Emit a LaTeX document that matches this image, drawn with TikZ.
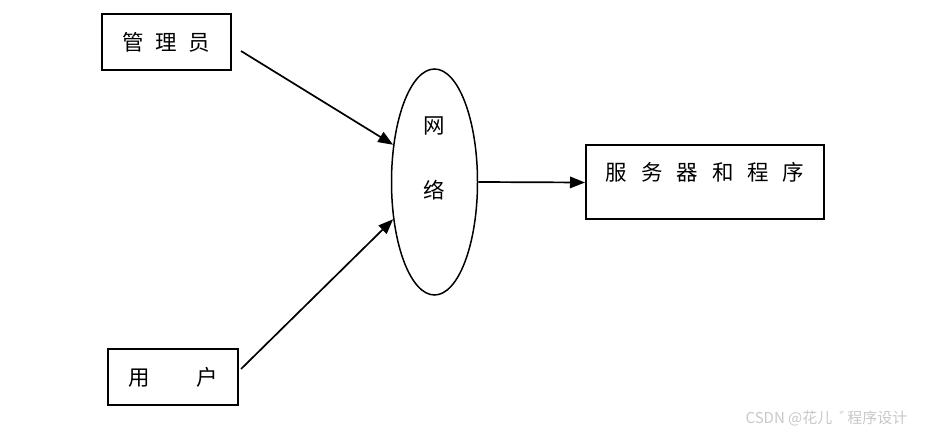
\documentclass[tikz,border=0pt]{standalone}
\usepackage{fontspec}
\usepackage{xcolor}
\newfontfamily\cjk{Noto Sans CJK SC}
\definecolor{wmgray}{RGB}{200,200,200}
\usetikzlibrary{shapes,arrows.meta,positioning}

\begin{document}
\begin{tikzpicture}[x=1pt,y=-1pt,
		box/.style={draw,line width=2pt,inner sep=0pt,font=\cjk\fontsize{21.5}{21.5}\selectfont},
		oval/.style={draw,ellipse,line width=1.5pt,minimum width=86pt,minimum height=226pt,inner sep=0pt},
		ch/.style={font=\cjk\fontsize{21.5}{21.5}\selectfont},
		arr/.style={line width=1.7pt,-{Triangle[length=15pt,width=11.5pt]}}]
	\useasboundingbox (0,0) rectangle (933,435);
	\node[box,minimum width=129pt,minimum height=56pt] (adm) at (166.5,42) {管\hspace{11.5pt}理\hspace{11.5pt}员};
		\node[box,minimum width=130pt,minimum height=56pt] (usr) at (173,377) {用\hspace{46.5pt}户};
		\node[oval,label={[ch,yshift=56pt]center:网},label={[ch,yshift=-8pt]center:络}] (net) at (434.5,182) {};
		\node[box,minimum width=238pt,minimum height=74pt,text depth=23pt] (srv) at (705,182.5) {服\hspace{14pt}务\hspace{14pt}器\hspace{14pt}和\hspace{14pt}程\hspace{14pt}序};
		\draw[arr] ([shift={(9,9)}]adm.east) -- (net.138);
		\draw[arr] ([shift={(2,-8)}]usr.east) -- (net.222);
		\draw[arr] (net.east) -- (srv.west);
		\node[font=\cjk\fontsize{15}{15}\selectfont,text=wmgray] (wm) at (826.5,418) {CSDN @花儿\hspace{7pt}゛\hspace{-7pt}程序设计};
	\end{tikzpicture}
\end{document}
